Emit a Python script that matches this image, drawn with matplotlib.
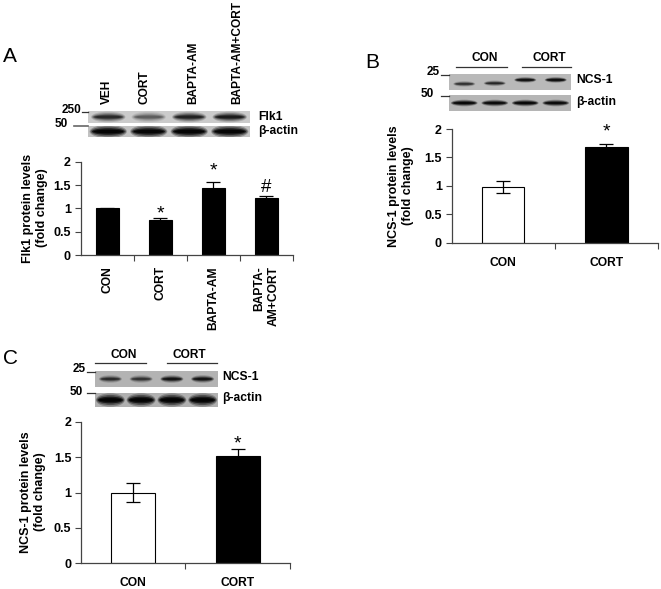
import numpy as np
import matplotlib
matplotlib.use("Agg")
import matplotlib.pyplot as plt
from matplotlib.patches import Ellipse
from matplotlib.lines import Line2D

plt.rcParams['font.family'] = ['Liberation Sans', 'DejaVu Sans']
plt.rcParams['font.weight'] = 'bold'

# ---- data ----
cats_a = ['CON', 'CORT', 'BAPTA-AM', 'BAPTA-\nAM+CORT']
vals_a = [1.0, 0.75, 1.43, 1.23]
errs_a = [0.01, 0.04, 0.13, 0.04]
sig_a = ['', '*', '*', '#']

cats_b = ['CON', 'CORT']
vals_b = [0.98, 1.69]
errs_b = [0.11, 0.04]
sig_b = ['', '*']

cats_c = ['CON', 'CORT']
vals_c = [1.0, 1.52]
errs_c = [0.14, 0.09]
sig_c = ['', '*']

lanes_a = ['VEH', 'CORT', 'BAPTA-AM', 'BAPTA-AM+CORT']
flk1_band = [0.55, 0.3, 0.6, 0.65]
actin_a = [0.95, 0.9, 0.95, 0.92]
ncs_b = [0.5, 0.55, 0.8, 0.85]
ncs_b_pos = [0.62, 0.58, 0.37, 0.37]
actin_b = [0.9, 0.85, 0.9, 0.85]
ncs_c = [0.5, 0.45, 0.7, 0.7]
actin_c = [0.95, 0.95, 0.95, 0.95]

W, H = 661, 589
fig = plt.figure(figsize=(W / 100, H / 100), dpi=100)


def box(x0, y0, x1, y1):
    return [x0 / W, 1 - y1 / H, (x1 - x0) / W, (y1 - y0) / H]


def ftext(x, y, s, **kw):
    fig.text(x / W, 1 - y / H, s, **kw)


def fline(x0, x1, y, lw=0.9, color='#333333'):
    fig.add_artist(Line2D([x0 / W, x1 / W], [1 - y / H, 1 - y / H],
                          transform=fig.transFigure, color=color, lw=lw))


def bar_panel(rect, cats, vals, errs, colors, sig, width, rot, sig_off, sig_size):
    ax = fig.add_axes(box(*rect))
    n = len(cats)
    x = np.arange(n) + 0.5
    ax.bar(x, vals, width, color=colors, edgecolor='black', linewidth=0.8,
           yerr=errs, capsize=5,
           error_kw=dict(elinewidth=0.9, capthick=0.9, ecolor='black'))
    ax.set_xlim(0, n)
    ax.set_ylim(0, 2)
    ax.set_yticks([0, 0.5, 1, 1.5, 2])
    ax.set_yticklabels(['0', '0.5', '1', '1.5', '2'], fontsize=9, fontweight='bold')
    ax.set_xticks(x)
    ax.set_xticklabels(cats, rotation=rot, fontsize=8.7, fontweight='bold',
                       ma='right' if rot else 'center')
    ax.set_xticks(np.arange(1, n + 1), minor=True)
    ax.tick_params(axis='x', which='major', length=0, pad=8 if rot else 10)
    ax.tick_params(axis='x', which='minor', length=4.5, width=0.8, color='#444444')
    ax.tick_params(axis='y', length=4, width=0.8, pad=3, color='#444444')
    for s in ['top', 'right']:
        ax.spines[s].set_visible(False)
    for s in ['left', 'bottom']:
        ax.spines[s].set_linewidth(0.9)
        ax.spines[s].set_color('#444444')
    for xi, v, e, s, o in zip(x, vals, errs, sig, sig_off):
        if s:
            ax.annotate(s, (xi, v + e), xytext=(0, o), textcoords='offset points',
                        ha='center', va='baseline', fontsize=sig_size if s == '*' else 13.5,
                        fontweight='normal')
    return ax


def blot(rect, dark, pos, h, w, bg):
    ax = fig.add_axes(box(*rect))
    n = len(dark)
    ax.set_xlim(0, n)
    ax.set_ylim(1, 0)
    ax.set_facecolor(bg)
    ax.set_xticks([])
    ax.set_yticks([])
    for s in ax.spines.values():
        s.set_visible(False)
    for i, d in enumerate(dark):
        for k, (sw, sh, a) in enumerate([(1.0, 1.6, 0.25), (0.95, 1.2, 0.4), (0.88, 0.8, 0.7), (0.8, 0.45, 0.9)]):
            ax.add_patch(Ellipse((i + 0.5, pos[i]), w * sw, h * sh,
                                 color='black', alpha=d * a, lw=0))
    return ax


# ---------------- Panel A ----------------
ftext(10, 57, 'A', fontsize=15, fontweight='normal', ha='center', va='center')
lane_x = [107, 144, 193, 237]
for lx, lab in zip(lane_x, lanes_a):
    ftext(lx, 104, lab, rotation=90, ha='center', va='bottom', fontsize=8.6)
blot((88, 111, 250, 123), flk1_band, [0.5] * 4, 0.55, 0.85, '#cbcbcb')
blot((88, 126, 250, 137), actin_a, [0.5] * 4, 0.75, 0.92, '#c2c2c2')
ftext(81, 110, '250', ha='right', va='center', fontsize=8.5)
fline(82, 88, 111.5)
ftext(68, 124, '50', ha='right', va='center', fontsize=8.5)
fline(74, 88, 126, color='#666666', lw=1.2)
ftext(258, 117, 'Flk1', ha='left', va='center', fontsize=8.7)
ftext(258, 131, 'β-actin', ha='left', va='center', fontsize=8.7)

bar_panel((80.7, 161.7, 293, 255), cats_a, vals_a, errs_a, ['black'] * 4, sig_a,
          0.44, 90, [0, 0, 5, 3], 14)
ftext(35, 208, 'Flk1 protein levels\n(fold change)', rotation=90, ha='center',
      va='center', fontsize=9, ma='center', linespacing=1.15)

# ---------------- Panel B ----------------
ftext(372, 62, 'B', fontsize=15, fontweight='normal', ha='center', va='center')
ftext(485, 58, 'CON', ha='center', va='center', fontsize=8.6)
ftext(549, 58, 'CORT', ha='center', va='center', fontsize=8.6)
fline(456, 507, 67)
fline(522, 571, 67)
blot((449, 74, 571, 90), ncs_b, ncs_b_pos, 0.22, 0.72, '#b9b9b9')
blot((449, 95, 571, 111), actin_b, [0.5] * 4, 0.26, 0.88, '#b5b5b5')
ftext(440, 72, '25', ha='right', va='center', fontsize=8.5)
fline(441, 449, 74.5)
ftext(434, 94, '50', ha='right', va='center', fontsize=8.5)
fline(441, 449, 96)
ftext(576, 80, 'NCS-1', ha='left', va='center', fontsize=8.7)
ftext(576, 102, 'β-actin', ha='left', va='center', fontsize=8.7)

bar_panel((451.7, 129, 658, 242.7), cats_b, vals_b, errs_b, ['white', 'black'], sig_b,
          0.41, 0, [0, 6], 14)
ftext(401, 186, 'NCS-1 protein levels\n(fold change)', rotation=90, ha='center',
      va='center', fontsize=9, ma='center', linespacing=1.15)

# ---------------- Panel C ----------------
ftext(10, 358, 'C', fontsize=15, fontweight='normal', ha='center', va='center')
ftext(124, 355, 'CON', ha='center', va='center', fontsize=8.6)
ftext(189, 355, 'CORT', ha='center', va='center', fontsize=8.6)
fline(95, 146, 363)
fline(167, 217, 363)
blot((95, 371, 218, 387), ncs_c, [0.5] * 4, 0.3, 0.75, '#b3b3b3')
blot((95, 393, 218, 407), actin_c, [0.5] * 4, 0.6, 0.94, '#b0b0b0')
ftext(86, 369, '25', ha='right', va='center', fontsize=8.5)
fline(87, 95, 371.5)
ftext(83, 392, '50', ha='right', va='center', fontsize=8.5)
fline(87, 95, 393)
ftext(222, 377, 'NCS-1', ha='left', va='center', fontsize=8.7)
ftext(222, 398, 'β-actin', ha='left', va='center', fontsize=8.7)

bar_panel((81, 422, 290, 563), cats_c, vals_c, errs_c, ['white', 'black'], sig_c,
          0.42, 0, [0, 1], 14)
ftext(33, 492, 'NCS-1 protein levels\n(fold change)', rotation=90, ha='center',
      va='center', fontsize=9, ma='center', linespacing=1.15)

fig.savefig('out.png', dpi=100)
